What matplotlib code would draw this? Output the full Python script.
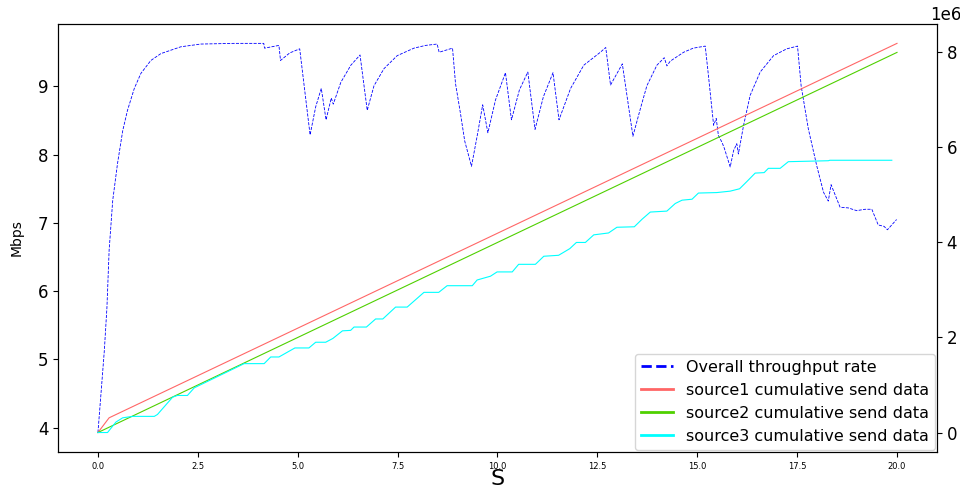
import matplotlib
matplotlib.use("Agg")
import matplotlib.pyplot as plt

# Overall throughput (Mbps)
thr_t = [0.0, 0.075, 0.16, 0.225, 0.28, 0.37, 0.49, 0.62, 0.74, 0.91, 1.075, 1.325, 1.575, 2.075,
         2.575, 3.4, 4.15, 4.17, 4.53, 4.57, 4.8, 5.05, 5.31, 5.45, 5.59, 5.71, 5.84, 5.89, 6.08,
         6.33, 6.56, 6.74, 6.91, 7.16, 7.49, 7.91, 8.2, 8.49, 8.54, 8.875, 8.95, 9.075, 9.18, 9.35,
         9.5, 9.63, 9.76, 9.95, 10.2, 10.35, 10.55, 10.76, 10.94, 11.15, 11.39, 11.54, 11.83, 12.16,
         12.575, 12.71, 12.83, 13.125, 13.39, 13.575, 13.74, 13.99, 14.175, 14.24, 14.325, 14.66,
         14.9, 15.2, 15.28, 15.41, 15.475, 15.53, 15.62, 15.68, 15.825, 15.91, 15.99, 16.03, 16.16,
         16.325, 16.575, 16.91, 17.24, 17.51, 17.6, 17.78, 17.99, 18.16, 18.28, 18.35, 18.575,
         18.78, 18.99, 19.2, 19.37, 19.53, 19.675, 19.76, 19.99]
thr_mbps = [3.93, 4.49, 5.13, 5.76, 6.6, 7.33, 7.87, 8.35, 8.65, 8.97, 9.19, 9.38, 9.48, 9.58,
            9.62, 9.63, 9.63, 9.56, 9.60, 9.38, 9.49, 9.55, 8.29, 8.70, 8.97, 8.51, 8.83, 8.74, 9.06,
            9.31, 9.46, 8.65, 9.01, 9.26, 9.45, 9.56, 9.60, 9.62, 9.50, 9.56, 9.04, 8.60, 8.20, 7.83,
            8.30, 8.73, 8.32, 8.80, 9.20, 8.51, 8.95, 9.21, 8.37, 8.85, 9.20, 8.51, 8.97, 9.31,
            9.50, 9.57, 9.02, 9.33, 8.27, 8.67, 9.01, 9.31, 9.42, 9.30, 9.37, 9.50,
            9.56, 9.59, 9.16, 8.43, 8.53, 8.28, 8.18, 8.09, 7.82, 8.06, 8.16, 8.01, 8.43,
            8.87, 9.21, 9.45, 9.55, 9.59, 9.01, 8.38, 7.84, 7.45, 7.32, 7.56, 7.23,
            7.22, 7.18, 7.20, 7.20, 6.97, 6.95, 6.90, 7.05]

# Cumulative send data (bytes)
src1_t = [0.0, 0.28, 20.0]
src1_v = [0.0, 0.31e6, 8.19e6]

src2_t = [0.0, 20.0]
src2_v = [0.0, 8.0e6]

src3_t = [0.0, 0.24, 0.45, 0.62, 0.87, 1.41, 1.49, 1.87, 1.99, 2.24, 2.41, 3.66, 4.16, 4.325,
          4.53, 4.74, 4.93, 5.28, 5.45, 5.7, 5.88, 6.12, 6.325, 6.41, 6.72, 6.95, 7.13, 7.45,
          7.74, 8.16, 8.53, 8.74, 9.37, 9.49, 9.825, 9.99, 10.37, 10.53, 10.95, 11.16, 11.53,
          11.81, 11.975, 12.2, 12.41, 12.78, 12.99, 13.425, 13.62, 13.825, 14.24, 14.45, 14.62,
          14.87, 15.03, 15.49, 15.825, 16.06, 16.24, 16.45, 16.675, 16.78, 17.075, 17.28, 18.28,
          18.32, 19.87]
src3_v = [0.0, 0.0, 0.22, 0.31, 0.34, 0.34, 0.38, 0.745, 0.78, 0.78, 0.94, 1.45, 1.45, 1.59,
          1.59, 1.69, 1.78, 1.78, 1.90, 1.90, 1.98, 2.14, 2.15, 2.22, 2.22, 2.39, 2.39, 2.64,
          2.64, 2.95, 2.95, 3.09, 3.09, 3.21, 3.29, 3.38, 3.38, 3.54, 3.54, 3.71, 3.73,
          3.87, 4.0, 4.0, 4.16, 4.20, 4.32, 4.33, 4.49, 4.64, 4.66, 4.82, 4.89,
          4.91, 5.04, 5.05, 5.08, 5.13, 5.28, 5.46, 5.47, 5.56, 5.56, 5.70, 5.72,
          5.73, 5.73]
src3_v = [v * 1e6 for v in src3_v]

labels = ["Overall throughput rate", "source1 cumulative send data",
          "source2 cumulative send data", "source3 cumulative send data"]

fig = plt.figure(figsize=(9.6, 4.88), dpi=100)
ax = fig.add_axes([0.0604, 0.0738, 0.9156, 0.8772])
ax2 = ax.twinx()

l0, = ax.plot(thr_t, thr_mbps, color="#0000ff", linestyle="--", linewidth=0.6, label=labels[0])
l1, = ax2.plot(src1_t, src1_v, color="#ff6666", linewidth=0.8, label=labels[1])
l2, = ax2.plot(src2_t, src2_v, color="#4fd000", linewidth=0.8, label=labels[2])
l3, = ax2.plot(src3_t, src3_v, color="#00ffff", linewidth=0.8, label=labels[3])

ax.set_xlabel("S", fontsize=16, labelpad=-1)
ax.set_ylabel("Mbps", fontsize=10, labelpad=10)
ax.tick_params(axis="x", labelsize=6)
ax.tick_params(axis="y", labelsize=12)
ax2.tick_params(axis="y", labelsize=12)
off = ax2.yaxis.get_offset_text()
off.set_fontsize(12)
off.set_horizontalalignment("left")
off.set_x(0.992)

leg = ax2.legend(handles=[l0, l1, l2, l3], loc="lower right", fontsize=11.5,
                 borderaxespad=0.1, labelspacing=0.5)
for ln in leg.get_lines():
    ln.set_linewidth(2.0)

fig.savefig("out.png", dpi=100)
